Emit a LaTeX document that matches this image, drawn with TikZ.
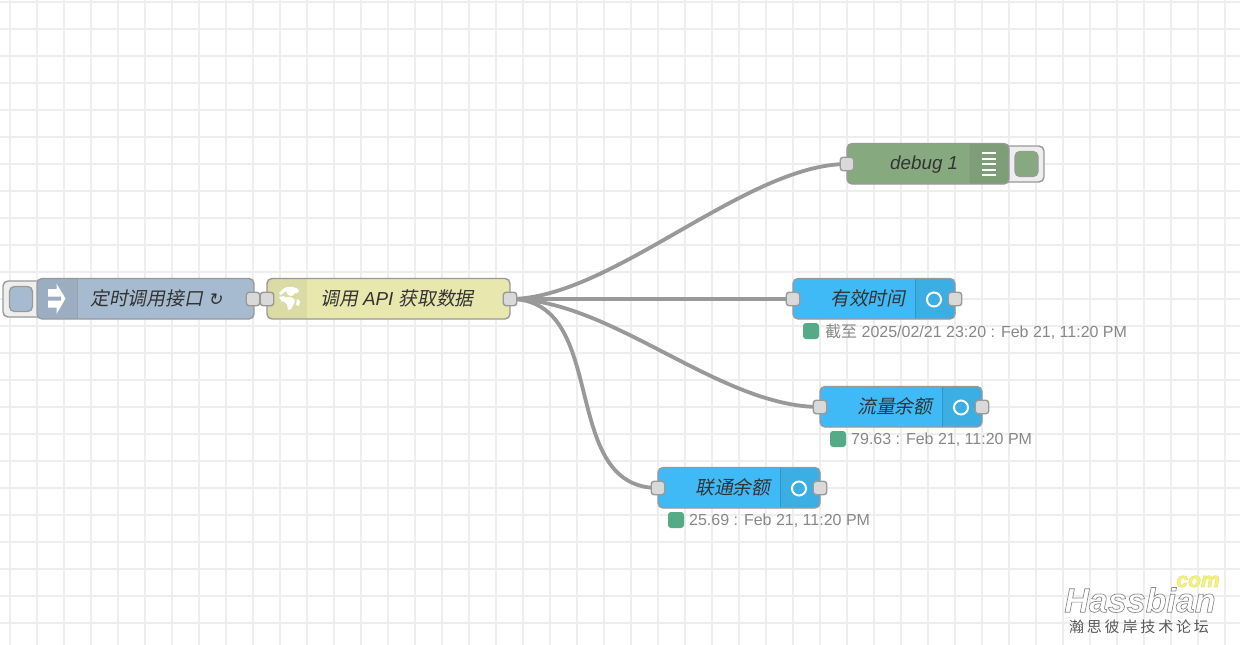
\documentclass[tikz,border=0pt]{standalone}
\usepackage{fontspec}
\usetikzlibrary{calc}
\setmainfont{Liberation Sans}
\newfontfamily\cjkplain{Noto Sans CJK SC}
\newfontfamily\cjkit[FakeSlant=0.2]{Noto Sans CJK SC}
\newfontfamily\cjkspaced[LetterSpace=19]{Noto Sans CJK SC}
\newfontfamily\symit[FakeSlant=0.2]{DejaVu Sans}
\definecolor{gridcol}{HTML}{EEEEEE}
\definecolor{wirecol}{HTML}{999999}
\definecolor{portcol}{HTML}{D9D9D9}
\definecolor{injectcol}{HTML}{A6BBCF}
\definecolor{injectdark}{HTML}{9BAEC1}
\definecolor{funccol}{HTML}{E7E7AE}
\definecolor{funcdark}{HTML}{DBDBA5}
\definecolor{debugcol}{HTML}{87A980}
\definecolor{debugdark}{HTML}{7D9E77}
\definecolor{statuscol}{HTML}{3FBAF6}
\definecolor{statusdark}{HTML}{3BAEE4}
\definecolor{dotcol}{HTML}{55AA88}
\definecolor{labelcol}{HTML}{333333}
\definecolor{infocol}{HTML}{888888}
\definecolor{markyellow}{HTML}{F5F56E}
\pgfdeclarelayer{gridlayer}
\pgfdeclarelayer{wirelayer}
\pgfsetlayers{gridlayer,wirelayer,main}
\tikzset{
  x=1pt,y=-1pt,
  body/.style={rectangle,rounded corners=5pt,outer sep=0pt,
    minimum height=40.5pt,inner sep=0pt,anchor=north west},
  portbox/.style={rectangle,rounded corners=3pt,draw=wirecol,fill=portcol,outer sep=0pt,
    line width=1.4pt,minimum width=13.5pt,minimum height=13.5pt,inner sep=0pt},
  outerbtn/.style={rectangle,rounded corners=5pt,draw=wirecol,fill=gridcol,line width=1.4pt},
  innerbtn/.style={rectangle,rounded corners=5pt,draw=wirecol,line width=1.4pt,
    minimum width=23pt,minimum height=25pt,inner sep=0pt},
  nodelabel/.style={anchor=west,text=labelcol,inner sep=0pt,font=\fontsize{18.8}{20}\selectfont\itshape},
  infolabel/.style={anchor=west,text=infocol,inner sep=0pt,font=\fontsize{16}{18}\selectfont},
  dot/.style={rectangle,rounded corners=3pt,fill=dotcol,minimum width=16pt,minimum height=16pt,inner sep=0pt},
  wire/.style={draw=wirecol,line width=3.8pt},
  ring/.style={circle,draw=white,line width=2pt,minimum size=14pt,inner sep=0pt}
}
% darker icon panel of a node between two x positions, with a divider at the inner edge
\newcommand{\iconpanel}[5]{%
  \begin{scope}
    \clip[rounded corners=5pt] (#1.north west) rectangle (#1.south east);
    \fill[#4] (#2,0 |- #1.north) rectangle (#3,0 |- #1.south);
    \draw[#5,line width=1pt] (#2,0 |- #1.north) -- (#2,0 |- #1.south);
    \draw[#5,line width=1pt] (#3,0 |- #1.north) -- (#3,0 |- #1.south);
  \end{scope}
  \draw[wirecol,line width=1.4pt,rounded corners=5pt] (#1.north west) rectangle (#1.south east);
}
% text filled in one colour with a thin outline in another
\newcommand{\outlinedtext}[3]{{\color{#1}\special{pdf:code 2 Tr 0.7 w #2 RG}#3\special{pdf:code 0 Tr}}}
\begin{document}
\begin{tikzpicture}
\useasboundingbox (0,0) rectangle (1240,645);

% background grid
\begin{pgfonlayer}{gridlayer}
  \fill[white] (0,0) rectangle (1240,645);
  \foreach \k in {0,...,45} \draw[gridcol,line width=2pt] ({10+27*\k},0) -- ({10+27*\k},645);
  \foreach \k in {0,...,23} \draw[gridcol,line width=2pt] (0,{2+27*\k}) -- (1240,{2+27*\k});
\end{pgfonlayer}

% timer node with its trigger button
\node[outerbtn,minimum width=44pt,minimum height=36pt] (injbtn) at (25,299) {};
\node[innerbtn,fill=injectcol] (injbtninner) at (21,299) {};
\node[body,fill=injectcol,minimum width=217pt] (inject) at (37,278.5) {};
\iconpanel{inject}{30}{77}{injectdark}{wirecol!60!injectdark}
\fill[white] (48,289) -- (56.5,289) -- (56.5,283.5) -- (65.5,298.5) -- (56.5,314) -- (56.5,307.5)
  -- (48,307.5) -- (48,300.5) -- (61,300.5) -- (61,296.5) -- (48,296.5) -- cycle;
\node[nodelabel] (injectlabel) at (90,298) {{\cjkit 定时调用接口} {\symit\fontsize{17}{18}\selectfont ↻}};
\node[portbox] (injectout) at (253,299) {};

% function node with its globe icon
\node[body,fill=funccol,minimum width=243pt] (func) at (267,278.5) {};
\iconpanel{func}{260}{306.5}{funcdark}{funcdark}
\fill[white] (283,289) .. controls (287,286) and (293,286) .. (298,289)
  .. controls (300,291) and (298,294) .. (295,293) -- (292,296) -- (288,295) -- (286,291)
  -- (281,295) -- (279,293) -- cycle;
\fill[white] (279,297) -- (284,296) -- (286,300) -- (282,302) -- cycle;
\fill[white] (284,298) .. controls (288,296) and (293,297) .. (295,300)
  .. controls (295,304) and (292,306) .. (291,309) -- (288,310) -- (287,304) -- (284,302) -- cycle;
\fill[white] (297,299) -- (300,301) -- (299,306) -- (296,305) -- cycle;
\node[nodelabel] (funclabel) at (320,298) {{\cjkit 调用} API {\cjkit 获取数据}};
\node[portbox] (funcin) at (267,299) {};
\node[portbox] (funcout) at (510,299) {};

% debug node with its toggle button
\node[outerbtn,minimum width=46pt,minimum height=36pt] (dbgbtn) at (1021,164) {};
\node[innerbtn,fill=debugcol] (dbgbtninner) at (1026.5,164) {};
\node[body,fill=debugcol,minimum width=162pt] (debug) at (847,143.5) {};
\iconpanel{debug}{969}{1016}{debugdark}{wirecol!50!debugdark}
\foreach \yy in {153,158.5,164,169.5,175} \draw[white,line width=2pt] (982,\yy) -- (996,\yy);
\node[nodelabel] (debuglabel) at (890,165) {debug 1};
\node[portbox] (debugin) at (847,164) {};

% status nodes
\node[body,fill=statuscol,minimum width=162pt] (valid) at (793,278.5) {};
\iconpanel{valid}{915}{962}{statusdark}{statusdark!85!black}
\node[ring] (validring) at (934,299.5) {};
\node[nodelabel] (validlabel) at (830,298) {\cjkit 有效时间};
\node[portbox] (validin) at (793,299) {};
\node[portbox] (validout) at (955,299) {};
\node[dot] (validdot) at (811,331) {};
\node[infolabel] (validinfo) at (825,331.5) {{\cjkplain 截至} 2025/02/21 23:20 : Feb 21, 11:20 PM};

\node[body,fill=statuscol,minimum width=162pt] (flow) at (820,386.5) {};
\iconpanel{flow}{942}{989}{statusdark}{statusdark!85!black}
\node[ring] (flowring) at (961,407.5) {};
\node[nodelabel] (flowlabel) at (857,406) {\cjkit 流量余额};
\node[portbox] (flowin) at (820,407) {};
\node[portbox] (flowout) at (982,407) {};
\node[dot] (flowdot) at (838,439) {};
\node[infolabel] (flowinfo) at (851,439.5) {79.63 : Feb 21, 11:20 PM};

\node[body,fill=statuscol,minimum width=162pt] (unicom) at (658,467.5) {};
\iconpanel{unicom}{780}{827}{statusdark}{statusdark!85!black}
\node[ring] (unicomring) at (799,488.5) {};
\node[nodelabel] (unicomlabel) at (695,487) {\cjkit 联通余额};
\node[portbox] (unicomin) at (658,488) {};
\node[portbox] (unicomout) at (820,488) {};
\node[dot] (unicomdot) at (676,520) {};
\node[infolabel] (unicominfo) at (689,520.5) {25.69 : Feb 21, 11:20 PM};

% wires run beneath the node bodies
\begin{pgfonlayer}{wirelayer}
  \draw[wire] (funcout.center) .. controls +(101,0) and ($(debugin.center)+(-101,0)$) .. (debugin.center);
  \draw[wire] (funcout.center) -- (validin.center);
  \draw[wire] (funcout.center) .. controls +(101,0) and ($(flowin.center)+(-101,0)$) .. (flowin.center);
  \draw[wire] (funcout.center) .. controls +(101,0) and ($(unicomin.center)+(-101,0)$) .. (unicomin.center);
\end{pgfonlayer}

% forum mark in the corner
\node[anchor=center,inner sep=0pt,font=\fontsize{34}{36}\selectfont\bfseries\itshape] (markname) at (1140,600)
  {\outlinedtext{white}{0.54 0.54 0.54}{Hassbian}};
\node[anchor=center,inner sep=0pt,font=\fontsize{21}{21}\selectfont\bfseries\itshape] (markcom) at (1198,581.5)
  {\outlinedtext{markyellow}{0.9 0.9 0.55}{com}};
\node[anchor=center,inner sep=0pt,text=black!65] (markcn) at (1139,627)
  {\cjkspaced\fontsize{15}{16}\selectfont 瀚思彼岸技术论坛};
\end{tikzpicture}
\end{document}
